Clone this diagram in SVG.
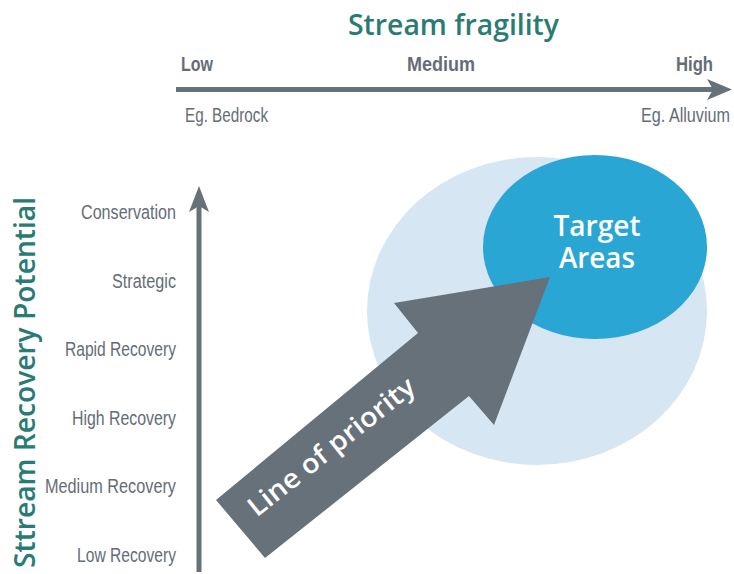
<svg xmlns="http://www.w3.org/2000/svg" width="734" height="574" viewBox="0 0 734 574">
  <style>
    .title { font-family: "Open Sans", "Liberation Sans", sans-serif; font-weight: 600; font-size: 28px; fill: #2a7b74; }
    .lab { font-family: "Liberation Sans Narrow", "Liberation Sans", sans-serif; font-size: 20px; fill: #646d76; }
    .bold { font-weight: bold; }
    .white { font-family: "Open Sans", "Liberation Sans", sans-serif; font-weight: 600; fill: #ffffff; }
    .axis { stroke: #67717a; stroke-width: 5; fill: none; }
    .head { fill: #67717a; }
  </style>
  <rect width="734" height="574" fill="#ffffff"/>

  <g id="outer-area">
    <ellipse cx="537" cy="311" rx="170" ry="154" fill="#d6e6f3"/>
  </g>
  <g id="target-areas">
    <ellipse cx="595" cy="247" rx="112" ry="92" fill="#2aa6d5"/>
    <text class="white" x="597" y="236" font-size="28" text-anchor="middle" textLength="87" lengthAdjust="spacingAndGlyphs">Target</text>
    <text class="white" x="597" y="268" font-size="28" text-anchor="middle" textLength="76" lengthAdjust="spacingAndGlyphs">Areas</text>
  </g>

  <g id="line-of-priority">
    <polygon points="216,500 418,333 394,303 550,277 494,425 469,396 265,558" fill="#67717a"/>
    <text class="white" font-size="27" text-anchor="middle" transform="translate(337,454) rotate(-38.5)" textLength="205" lengthAdjust="spacingAndGlyphs">Line of priority</text>
  </g>

  <g id="connectors">
    <line class="axis" x1="176" y1="89.5" x2="716" y2="89.5"/>
    <polygon class="head" points="707,79 732,89.5 707,100 713,89.5"/>
    <line class="axis" x1="199" y1="572" x2="199" y2="204"/>
    <polygon class="head" points="199,186 209,212 199,206 189,212"/>
  </g>

  <g id="x-axis-title">
    <text class="title" x="453.5" y="35" text-anchor="middle" textLength="211" lengthAdjust="spacingAndGlyphs">Stream fragility</text>
  </g>
  <g id="x-axis-labels">
    <text class="lab bold" x="181" y="71" textLength="32" lengthAdjust="spacingAndGlyphs">Low</text>
    <text class="lab bold" x="441" y="71" text-anchor="middle" textLength="68" lengthAdjust="spacingAndGlyphs">Medium</text>
    <text class="lab bold" x="713" y="71" text-anchor="end" textLength="37" lengthAdjust="spacingAndGlyphs">High</text>
    <text class="lab" x="185" y="122" textLength="83" lengthAdjust="spacingAndGlyphs">Eg. Bedrock</text>
    <text class="lab" x="730" y="122" text-anchor="end" textLength="89" lengthAdjust="spacingAndGlyphs">Eg. Alluvium</text>
  </g>

  <g id="y-axis-title">
    <text class="title" transform="translate(35,568) rotate(-90)" textLength="371" lengthAdjust="spacingAndGlyphs">Sttream Recovery Potential</text>
  </g>
  <g id="y-axis-labels">
    <text class="lab" x="176" y="219" text-anchor="end" textLength="95" lengthAdjust="spacingAndGlyphs">Conservation</text>
    <text class="lab" x="176" y="288" text-anchor="end" textLength="64" lengthAdjust="spacingAndGlyphs">Strategic</text>
    <text class="lab" x="176" y="356" text-anchor="end" textLength="111" lengthAdjust="spacingAndGlyphs">Rapid Recovery</text>
    <text class="lab" x="176" y="425" text-anchor="end" textLength="104" lengthAdjust="spacingAndGlyphs">High Recovery</text>
    <text class="lab" x="176" y="493" text-anchor="end" textLength="131" lengthAdjust="spacingAndGlyphs">Medium Recovery</text>
    <text class="lab" x="176" y="562" text-anchor="end" textLength="99" lengthAdjust="spacingAndGlyphs">Low Recovery</text>
  </g>
</svg>
